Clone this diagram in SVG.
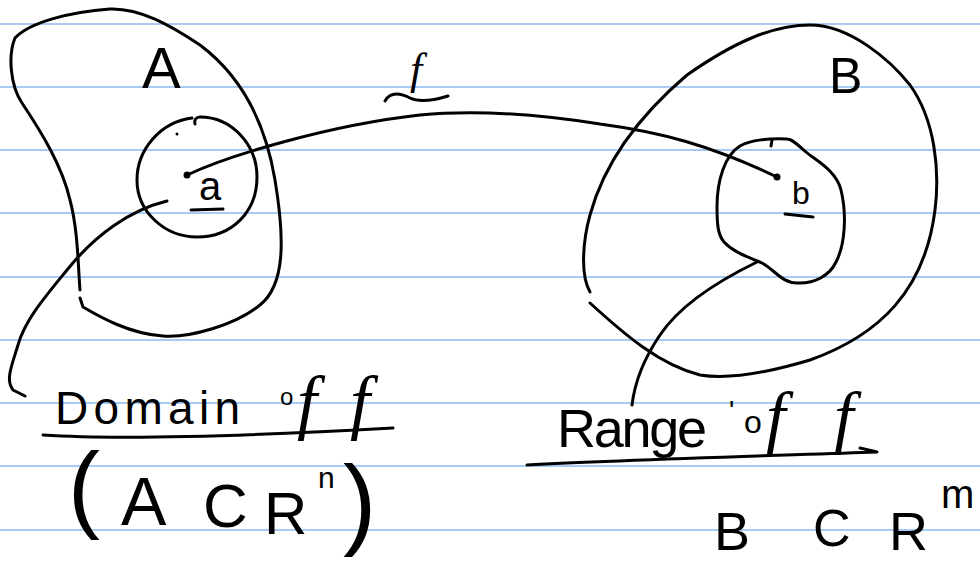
<svg xmlns="http://www.w3.org/2000/svg" width="980" height="564" viewBox="0 0 980 564">
<style>
.rule{stroke:#a8cbf5;stroke-width:2;fill:none}
.ink{stroke:#000;stroke-width:3;fill:none;stroke-linecap:round;stroke-linejoin:round}
.t{font-family:"Liberation Sans",Arial,sans-serif;fill:#000}
.fi{font-family:"Liberation Serif","Times New Roman",serif;font-style:italic;fill:#000}
</style>
<rect width="980" height="564" fill="#fff"/>
<g id="ruling">
<line class="rule" x1="0" y1="24" x2="980" y2="24"/>
<line class="rule" x1="0" y1="87" x2="980" y2="87"/>
<line class="rule" x1="0" y1="150" x2="980" y2="150"/>
<line class="rule" x1="0" y1="213" x2="980" y2="213"/>
<line class="rule" x1="0" y1="277" x2="980" y2="277"/>
<line class="rule" x1="0" y1="340" x2="980" y2="340"/>
<line class="rule" x1="0" y1="403" x2="980" y2="403"/>
<line class="rule" x1="0" y1="466" x2="980" y2="466"/>
<line class="rule" x1="0" y1="530" x2="980" y2="530"/>
</g>
<g id="set-A">
<path class="ink" d="M80,290 C78,265 78,230 70,200 C62,165 40,130 22,103 C10,85 8,55 15,38 C30,22 70,12 110,9 C140,8 170,25 200,45 C240,75 265,120 275,180 C285,240 285,285 260,305 C235,325 190,338 163,336 C130,334 100,317 83,307 L80,298"/>
<text class="t" x="142" y="88" font-size="58">A</text>
</g>
<g id="subset-a">
<path class="ink" d="M192,118 C160,122 137,150 137,180 C137,212 165,237 197,237 C232,237 257,212 257,177 C257,145 232,117 200,117 C196,117 194,120 195,124"/>
<circle cx="177" cy="134" r="1.5" fill="#000"/>
</g>
<g id="point-a">
<circle cx="187" cy="175" r="3.5" fill="#000"/>
<text class="t" x="199" y="200" font-size="40">a</text>
<path class="ink" d="M191,210 L223,209"/>
</g>
<g id="set-B">
<path class="ink" d="M590,292 C580,275 583,240 590,215 C605,160 640,115 687,75 C730,45 770,25 810,25 C850,25 890,60 910,85 C935,120 940,170 935,210 C925,290 880,335 810,360 C770,372 730,380 700,375 C660,365 625,335 590,303"/>
<text class="t" x="829" y="93" font-size="50">B</text>
</g>
<g id="subset-b">
<path class="ink" d="M787,139 C770,138 750,140 740,146 C725,155 717,180 717,207 C717,225 718,235 724,242 C735,254 752,258 762,263 C775,270 782,283 797,283 C815,284 830,275 836,262 C845,245 847,215 841,190 C836,170 815,160 806,152 C798,145 792,139 787,139"/>
<path class="ink" d="M772,140 L771,146"/>
</g>
<g id="point-b">
<circle cx="777" cy="177" r="3.5" fill="#000"/>
<text class="t" x="792" y="204" font-size="32">b</text>
<path class="ink" d="M785,214 L813,217"/>
</g>
<g id="connectors">
<path class="ink" d="M187,175 C230,155 330,125 420,115 C470,110 530,113 600,124 C660,132 710,145 777,177"/>
<path class="ink" d="M167,201 C130,210 95,235 67,270 C45,297 25,320 18,345 C12,365 5,380 13,390 L25,396"/>
<path class="ink" d="M757,262 C720,280 680,305 660,335 C645,357 635,380 632,405"/>
</g>
<g id="label-f">
<text class="fi" x="410" y="84" font-size="44">f</text>
<path class="ink" d="M385,101 C390,92 400,93 410,98 C420,103 435,100 448,96"/>
</g>
<g id="label-domain">
<text class="t" x="55" y="424" font-size="46" textLength="185" lengthAdjust="spacing">Domain</text>
<text class="t" x="280" y="405" font-size="24">o</text>
<text class="fi" x="297" y="426" font-size="72">f</text>
<text class="fi" x="350" y="426" font-size="72">f</text>
<path class="ink" d="M43,435 C120,440 250,436 393,428"/>
<text class="t" x="68" y="520" font-size="96">(</text>
<text class="t" x="121" y="525" font-size="68">A</text>
<text class="t" x="203" y="527" font-size="62">C</text>
<text class="t" x="264" y="534" font-size="60">R</text>
<text class="t" x="318" y="488" font-size="30">n</text>
<text class="t" x="343" y="536" font-size="100">)</text>
</g>
<g id="label-range">
<text class="t" x="557" y="447" font-size="54" textLength="150" lengthAdjust="spacing">Range</text>
<text class="t" x="729" y="420" font-size="28">'</text>
<text class="t" x="744" y="433" font-size="32">o</text>
<text class="fi" x="766" y="440" font-size="70">f</text>
<text class="fi" x="834" y="440" font-size="70">f</text>
<path class="ink" d="M527,465 C620,460 760,456 877,452 L860,448"/>
<text class="t" x="714" y="550" font-size="54">B</text>
<text class="t" x="813" y="546" font-size="52">C</text>
<text class="t" x="889" y="550" font-size="54">R</text>
<text class="t" x="941" y="508" font-size="40">m</text>
</g>
</svg>
